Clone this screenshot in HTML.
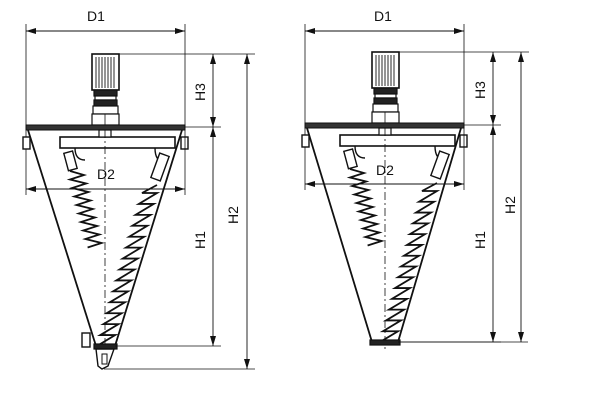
<!DOCTYPE html>
<html><head><meta charset="utf-8"><style>
html,body{margin:0;padding:0;background:#fff;width:600px;height:402px;overflow:hidden}
svg{display:block}
text{font-family:"Liberation Sans",sans-serif;font-size:14px;fill:#111}
</style></head><body>
<svg id="s" width="600" height="402" viewBox="0 0 600 402" xmlns="http://www.w3.org/2000/svg">
<defs>
<marker id="a" viewBox="0 0 10 6" refX="10" refY="3" markerWidth="10" markerHeight="6" orient="auto-start-reverse" markerUnits="userSpaceOnUse"><path d="M0,0 L10,3 L0,6 z" fill="#111"/></marker>
</defs>
<g id="g" stroke="#111" fill="none"></g>
<text x="96" y="21" text-anchor="middle">D1</text>
<text x="106" y="179" text-anchor="middle">D2</text>
<text transform="translate(205,92) rotate(-90)" text-anchor="middle">H3</text>
<text transform="translate(238,215) rotate(-90)" text-anchor="middle">H2</text>
<text transform="translate(205,240) rotate(-90)" text-anchor="middle">H1</text>
<text x="383" y="21" text-anchor="middle">D1</text>
<text x="385" y="175" text-anchor="middle">D2</text>
<text transform="translate(485,90) rotate(-90)" text-anchor="middle">H3</text>
<text transform="translate(515,205) rotate(-90)" text-anchor="middle">H2</text>
<text transform="translate(485,240) rotate(-90)" text-anchor="middle">H1</text>
</svg>
<script>
var g=document.getElementById('g'),o='';
function L(x1,y1,x2,y2,w,ex){o+='<line x1="'+x1+'" y1="'+y1+'" x2="'+x2+'" y2="'+y2+'" stroke-width="'+(w||1)+'" '+(ex||'')+'/>';}
function R(x,y,w,h,f,sw){o+='<rect x="'+x+'" y="'+y+'" width="'+w+'" height="'+h+'" fill="'+(f||'#fff')+'" stroke-width="'+(sw||1.2)+'"/>';}
function D(x1,y1,x2,y2){L(x1,y1,x2,y2,0.9,'marker-start="url(#a)" marker-end="url(#a)"');}
function draw(p){
 var c=p.c,l=p.l,r=p.r,top=p.top,fl=p.fl,bot=p.bot;
 L(l,24,l,p.d2+6,0.8);L(r,24,r,fl,0.8);D(l,31,r,31);
 R(c-13,top,27,36,'#fff',1.6);
 for(var i=-9;i<=9;i+=3)L(c+i,top+3,c+i,top+34,0.9);
 R(c-11,top+36,23,6,'#222');R(c-10,top+42,21,4,'#fff');R(c-11,top+46,23,6,'#222');
 R(c-12,top+52,25,8,'#fff');R(c-13,top+60,27,fl-top-62,'#fff');
 L(c,top+60,c,fl-2,0.8);
 R(l,fl-2,r-l,5,'#333',1);
 R(l-3,fl+10,7,12,'#fff',1.4);R(r-4,fl+10,7,12,'#fff',1.4);
 R(p.pl,fl+10,p.pr-p.pl,11,'#fff',1.6);
 R(c-6,fl+3,12,7,'#fff');
 L(l+2,fl+3,p.bl,bot,1.8);L(r-3,fl+3,p.br,bot,1.8);
 L(c,fl+3,c,bot+10,0.8,'stroke-dasharray="8,3,2,3"');
 D(l,p.d2,r,p.d2);L(r,fl+3,r,p.d2+6,0.8);
 o+='<path d="M'+(p.pl+15)+','+(fl+21)+' q0,12 10,12" stroke-width="1.4"/>';
 o+='<path d="M'+(p.pr-20)+','+(fl+21)+' q0,14 10,14" stroke-width="1.4"/>';
 o+='<rect x="'+(p.pl+6)+'" y="'+(fl+25)+'" width="9" height="18" fill="#fff" stroke-width="1.4" transform="rotate(-15 '+(p.pl+10)+' '+(fl+34)+')"/>';
 o+='<rect x="'+(p.pr-20)+'" y="'+(fl+27)+'" width="10" height="26" fill="#fff" stroke-width="1.4" transform="rotate(20 '+(p.pr-15)+' '+(fl+40)+')"/>';
 var s='M'+(p.pl+10)+','+(fl+44);for(var k=0;k<9;k++){var y=fl+44+k*8.5,x=p.pl+10+k*2.2;s+=' L'+(x+14)+','+(y+4)+' L'+(x)+','+(y+8.5);}o+='<path d="'+s+'" stroke-width="1.8"/>';
 var x0=p.pr-18,y0=fl+58,x1=p.br-3,y1=bot-8,n=14;s='M'+x0+','+y0;
 for(k=0;k<=n;k++){var t=k/n,x=x0+(x1-x0)*t,y=y0+(y1-y0)*t;s+=' L'+(x-15)+','+(y+8)+' L'+(x)+','+(y+8);}
 o+='<path d="'+s+'" stroke-width="1.8"/>';
 R(p.bl-2,bot-2,p.br-p.bl+4,5,'#222');
 L(c+13,top,p.h2+8,top,0.8);L(r,fl,p.h3+8,fl,0.8);
 D(p.h3,top,p.h3,fl);D(p.h3,fl,p.h3,bot);D(p.h2,top,p.h2,p.b2);
 L(p.br,bot,p.h3+8,bot,0.8);
}
draw({c:105,l:26,r:185,top:54,fl:127,bot:346,pl:60,pr:175,bl:96,br:115,d2:189,h3:213,h2:247,b2:369});
R(82,333,8,14,'#fff',1.4);
o+='<path d="M96,349 L114,349 L108,366 L102,369 L98,366 Z" fill="#fff" stroke-width="1.4"/>';R(102,354,5,10,'#fff',1);
L(104,369,255,369,0.8);
draw({c:385,l:305,r:464,top:52,fl:125,bot:342,pl:340,pr:455,bl:372,br:398,d2:184,h3:493,h2:521,b2:342});
L(398,342,528,342,0.8);
g.innerHTML=o;
</script>
</body></html>
